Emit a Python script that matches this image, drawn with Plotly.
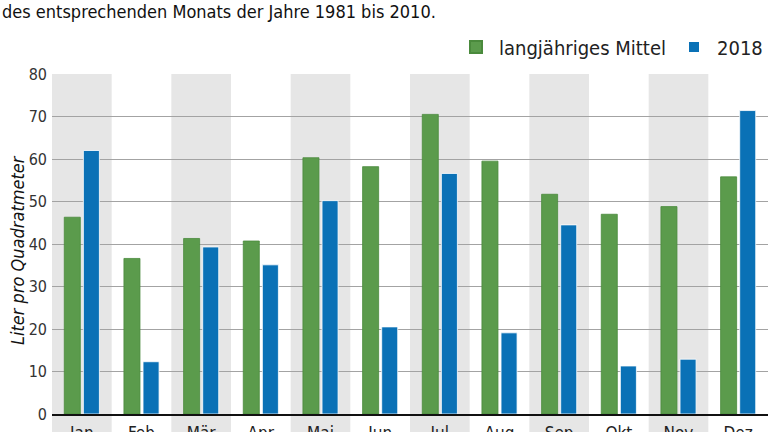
import plotly.graph_objects as go

months = ["Jan", "Feb", "Mär", "Apr", "Mai", "Jun", "Jul", "Aug", "Sep", "Okt", "Nov", "Dez"]
mittel = [46.3, 36.6, 41.3, 40.7, 60.3, 58.2, 70.5, 59.5, 51.7, 47.0, 48.8, 55.8]
jahr2018 = [62.0, 12.3, 39.3, 35.1, 50.2, 20.5, 56.6, 19.1, 44.5, 11.3, 12.9, 71.4]
y_ticks = [0, 10, 20, 30, 40, 50, 60, 70, 80]

FONT = "Liberation Sans Narrow, DejaVu Sans Condensed, Arial Narrow, sans-serif"
GREEN = "#5b9b4c"
BLUE = "#0a71b6"

fig = go.Figure()
fig.add_trace(go.Bar(x=months, y=mittel, name="langjähriges Mittel",
                     marker=dict(color=GREEN, line=dict(color="#4a8a3c", width=0.8))))
fig.add_trace(go.Bar(x=months, y=jahr2018, name="2018",
                     marker=dict(color=BLUE, line=dict(color="#ffffff", width=0.8))))

W, H = 768, 432
ml, mr, mt, mb = 52, 0, 74, 18
ph = H - mt - mb

shapes = []
n = len(months)
for i in range(0, n, 2):
    shapes.append(dict(type="rect", xref="paper", yref="paper",
                       x0=i / n, x1=(i + 1) / n, y0=-mb / ph - 0.01, y1=1,
                       fillcolor="#e6e6e6", line=dict(width=0), layer="below"))

fig.update_layout(
    width=W, height=H,
    margin=dict(l=ml, r=mr, t=mt, b=mb, autoexpand=False),
    plot_bgcolor="rgba(0,0,0,0)", paper_bgcolor="white",
    font=dict(family=FONT, color="#222222", size=17),
    barmode="group", bargap=0.36, bargroupgap=0.16,
    shapes=shapes,
    showlegend=True,
    legend=dict(orientation="h", x=1, xanchor="right", y=(414 - 47) / ph, yanchor="middle",
                font=dict(size=20, family=FONT, color="#222222"),
                bgcolor="rgba(0,0,0,0)", itemsizing="constant", traceorder="normal",
                itemwidth=36, tracegroupgap=0),
    xaxis=dict(type="category", categoryorder="array", categoryarray=months,
               range=[-0.5, n - 0.5], showgrid=False, showline=True, linecolor="#111111",
               linewidth=2, ticks="", tickfont=dict(size=17, color="#222222"), automargin=False,
               ticklabelstandoff=3, fixedrange=True),
    yaxis=dict(range=[0, 80], tickvals=y_ticks, showgrid=True, gridcolor="#a3a3a3", gridwidth=1,
               zeroline=False, showline=False, ticks="", tickfont=dict(size=16, color="#333333"),
               automargin=False, ticklabelstandoff=4),
    annotations=[
        dict(text="des entsprechenden Monats der Jahre 1981 bis 2010.", xref="paper", yref="paper",
             x=-ml / (W - ml - mr), y=(414 - 12) / ph, xanchor="left", yanchor="middle",
             showarrow=False, font=dict(size=18, family=FONT, color="#111111")),
        dict(text="Liter pro Quadratmeter", xref="paper", yref="paper",
             x=(18 - ml) / (W - ml - mr), y=(414 - 250) / ph, xanchor="center", yanchor="middle",
             textangle=-90, showarrow=False,
             font=dict(size=18, family=FONT, color="#111111", style="italic")),
    ],
)

fig.write_html("out.html")
